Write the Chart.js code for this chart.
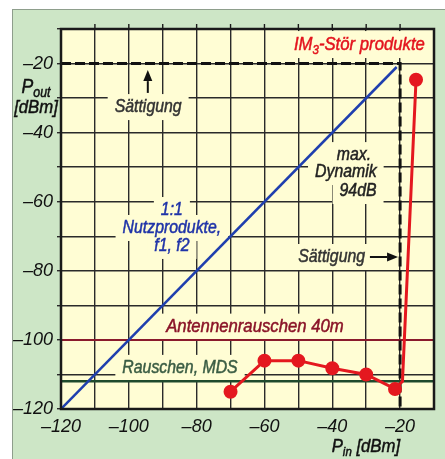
<!DOCTYPE html>
<html><head><meta charset="utf-8">
<script src="https://cdn.jsdelivr.net/npm/chart.js@4/dist/chart.umd.min.js"></script>
<style>html,body{margin:0;padding:0;background:#fff}canvas{display:block}</style>
</head><body>
<canvas id="c" width="445" height="459"></canvas>
<script>
// ---- data ----
const nutzX = [-120, -21];
const nutzY = [-120, -21];
const satX = [-120, -20, -20];
const satY = [-20, -20, -120];
const antX = [-120, -10];
const antY = [-100, -100];
const mdsX = [-120, -10];
const mdsY = [-112, -112];
const imX = [-70, -60, -50, -40, -30, -21.5, -19.3, -15.3];
const imY = [-115, -106, -106, -108.2, -110, -114.2, -112, -24.7];
const imMarker = [true, true, true, true, true, true, false, true];
const xTickLabels = [-120, -100, -80, -60, -40, -20];
const yTickLabels = [-120, -100, -80, -60, -40, -20];

const FAM = '"Liberation Sans", Arial, sans-serif';
const PANEL = '#cde6c6';
const PLOT = '#fffdd4';
const KX = 0.88;

const pts = (xs, ys) => xs.map((x, i) => ({x, y: ys[i]}));
const fmt = v => '\u2013' + Math.abs(v);

const notes = [
  {segs: [{t: 'IM'}, {t: '3', sub: 1}, {t: '-Stör produkte'}], x: -12.7, y: -14.5, align: 'right', color: '#e3141e', size: 19},
  {segs: [{t: 'Sättigung'}], x: -94.3, y: -32.6, align: 'center', color: '#333', size: 18},
  {segs: [{t: 'max.'}], x: -33.6, y: -46.5, align: 'center', color: '#222', size: 18},
  {segs: [{t: 'Dynamik'}], x: -36.0, y: -51.4, align: 'center', color: '#222', size: 18},
  {segs: [{t: '94dB'}], x: -32.4, y: -56.9, align: 'center', color: '#222', size: 18},
  {segs: [{t: '1:1'}], x: -87.3, y: -62.4, align: 'center', color: '#1f33a8', size: 18},
  {segs: [{t: 'Nutzprodukte,'}], x: -87.3, y: -67.6, align: 'center', color: '#1f33a8', size: 18},
  {segs: [{t: 'f1, f2'}], x: -87.3, y: -72.8, align: 'center', color: '#1f33a8', size: 18},
  {segs: [{t: 'Sättigung'}], x: -40.2, y: -76.0, align: 'center', color: '#333', size: 18},
  {segs: [{t: 'Antennenrauschen 40m'}], x: -62.8, y: -96.3, align: 'center', color: '#8a1428', size: 19},
  {segs: [{t: 'Rauschen, MDS'}], x: -84.9, y: -108.1, align: 'center', color: '#3b5d44', size: 18}
];
const arrowFrom = [[-94.4, -28.5], [-28.9, -76.0]];
const arrowTo = [[-94.4, -21.9], [-20.6, -76.0]];

function measureRich(c, segs, size) {
  let w = 0;
  segs.forEach(s => { c.font = `italic ${s.sub ? Math.round(size * 0.7) : size}px ${FAM}`; s.w = c.measureText(s.t).width * KX; w += s.w; });
  return w;
}
function startX(x, w, align) { return align === 'right' ? x - w : align === 'center' ? x - w / 2 : x; }
function drawRich(c, segs, x, y, align, size, color) {
  const w = measureRich(c, segs, size);
  let sx = startX(x, w, align);
  c.fillStyle = color; c.strokeStyle = color; c.lineWidth = 0.5;
  c.textBaseline = 'middle'; c.textAlign = 'left';
  segs.forEach(s => {
    c.font = `italic ${s.sub ? Math.round(size * 0.7) : size}px ${FAM}`;
    c.save(); c.translate(sx, y + (s.sub ? size * 0.3 : 0)); c.scale(KX, 1);
    c.fillText(s.t, 0, 0); c.strokeText(s.t, 0, 0);
    c.restore();
    sx += s.w;
  });
}

const bgPlugin = {
  id: 'bg',
  beforeDraw(ch) {
    const c = ch.ctx, a = ch.chartArea;
    c.save();
    c.fillStyle = '#fff'; c.fillRect(0, 0, ch.width, ch.height);
    c.fillStyle = PANEL; c.fillRect(12, 9, ch.width - 12, ch.height - 9);
    c.strokeStyle = '#8e9e8c'; c.lineWidth = 1; c.strokeRect(12.5, 9.5, ch.width, ch.height);
    c.fillStyle = PLOT; c.fillRect(a.left, a.top, a.right - a.left, a.bottom - a.top);
    c.restore();
  },
  beforeDatasetsDraw(ch) {
    const c = ch.ctx, xs = ch.scales.x, ys = ch.scales.y;
    c.save();
    // background gaps first
    c.fillStyle = PLOT;
    notes.forEach(n => {
      const w = measureRich(c, n.segs, n.size);
      const px = xs.getPixelForValue(n.x), py = ys.getPixelForValue(n.y);
      const sx = startX(px, w, n.align);
      c.fillRect(sx - 7, py - n.size / 2 - 4, w + 14, n.size + 8);
    });
    notes.forEach(n => drawRich(c, n.segs, xs.getPixelForValue(n.x), ys.getPixelForValue(n.y), n.align, n.size, n.color));
    c.strokeStyle = '#111'; c.fillStyle = '#111'; c.lineWidth = 2;
    arrowFrom.forEach((f, i) => {
      const x0 = xs.getPixelForValue(f[0]), y0 = ys.getPixelForValue(f[1]);
      const x1 = xs.getPixelForValue(arrowTo[i][0]), y1 = ys.getPixelForValue(arrowTo[i][1]);
      const ang = Math.atan2(y1 - y0, x1 - x0), L = 11, W = 4.5;
      const bx = x1 - L * Math.cos(ang), by = y1 - L * Math.sin(ang);
      c.beginPath(); c.moveTo(x0, y0); c.lineTo(bx, by); c.stroke();
      c.beginPath(); c.moveTo(x1, y1);
      c.lineTo(bx + W * Math.sin(ang), by - W * Math.cos(ang));
      c.lineTo(bx - W * Math.sin(ang), by + W * Math.cos(ang));
      c.closePath(); c.fill();
    });
    c.restore();
  },
  afterDraw(ch) {
    const c = ch.ctx, a = ch.chartArea, xs = ch.scales.x, ys = ch.scales.y;
    c.save();
    c.strokeStyle = '#1a1a1a'; c.lineWidth = 2.5;
    c.strokeRect(a.left, a.top, a.right - a.left, a.bottom - a.top);
    c.lineWidth = 1.4;
    for (let v = -110; v <= -20; v += 10) {
      const px = xs.getPixelForValue(v);
      c.beginPath(); c.moveTo(px, a.top - 5); c.lineTo(px, a.top); c.stroke();
    }
    const tx = a.left - 25;
    drawRich(c, [{t: 'P'}, {t: 'out', sub: 1}], tx, ys.getPixelForValue(-26.8), 'center', 20, '#111');
    drawRich(c, [{t: '[dBm]'}], tx, ys.getPixelForValue(-32.9), 'center', 19, '#111');
    drawRich(c, [{t: 'P'}, {t: 'in', sub: 1}, {t: ' [dBm]'}], xs.getPixelForValue(-20), a.bottom + 38, 'right', 19, '#111');
    c.restore();
  }
};

new Chart(document.getElementById('c'), {
  type: 'scatter',
  data: {
    datasets: [
      {data: pts(imX, imY), showLine: true, borderColor: '#e4181f', backgroundColor: '#e4181f', borderWidth: 3,
       pointRadius: imMarker.map(m => m ? 5.5 : 0), pointHoverRadius: 0},
      {data: pts(satX, satY), showLine: true, borderColor: '#111', borderWidth: 3, borderDash: [10, 4], pointRadius: 0},
      {data: pts(nutzX, nutzY), showLine: true, borderColor: '#1f3fae', borderWidth: 2.5, pointRadius: 0},
      {data: pts(antX, antY), showLine: true, borderColor: '#8a1a2c', borderWidth: 2, pointRadius: 0},
      {data: pts(mdsX, mdsY), showLine: true, borderColor: '#1e4a2c', borderWidth: 2.5, pointRadius: 0}
    ]
  },
  options: {
    responsive: false, animation: false, devicePixelRatio: 1,
    layout: {padding: {top: 29, right: 11, left: 0, bottom: 0}},
    plugins: {legend: {display: false}, tooltip: {enabled: false}},
    scales: {
      x: {
        type: 'linear', min: -120, max: -10,
        afterFit: s => { s.height = 50; },
        grid: {color: '#2a2a2a', lineWidth: 1.4, drawTicks: false},
        border: {display: false},
        ticks: {stepSize: 10, padding: 7, color: '#111', maxRotation: 0, autoSkip: false,
          font: {family: FAM, size: 18, style: 'italic'},
          callback: v => xTickLabels.includes(v) ? fmt(v) : ''}
      },
      y: {
        type: 'linear', min: -120, max: -10,
        afterFit: s => { s.width = 61; },
        grid: {color: '#2a2a2a', lineWidth: 1.4, tickLength: 4},
        border: {display: false},
        ticks: {stepSize: 10, padding: 4, color: '#111', autoSkip: false,
          font: {family: FAM, size: 18, style: 'italic'},
          callback: v => yTickLabels.includes(v) ? fmt(v) : ''}
      }
    }
  },
  plugins: [bgPlugin]
});
</script>
</body></html>
